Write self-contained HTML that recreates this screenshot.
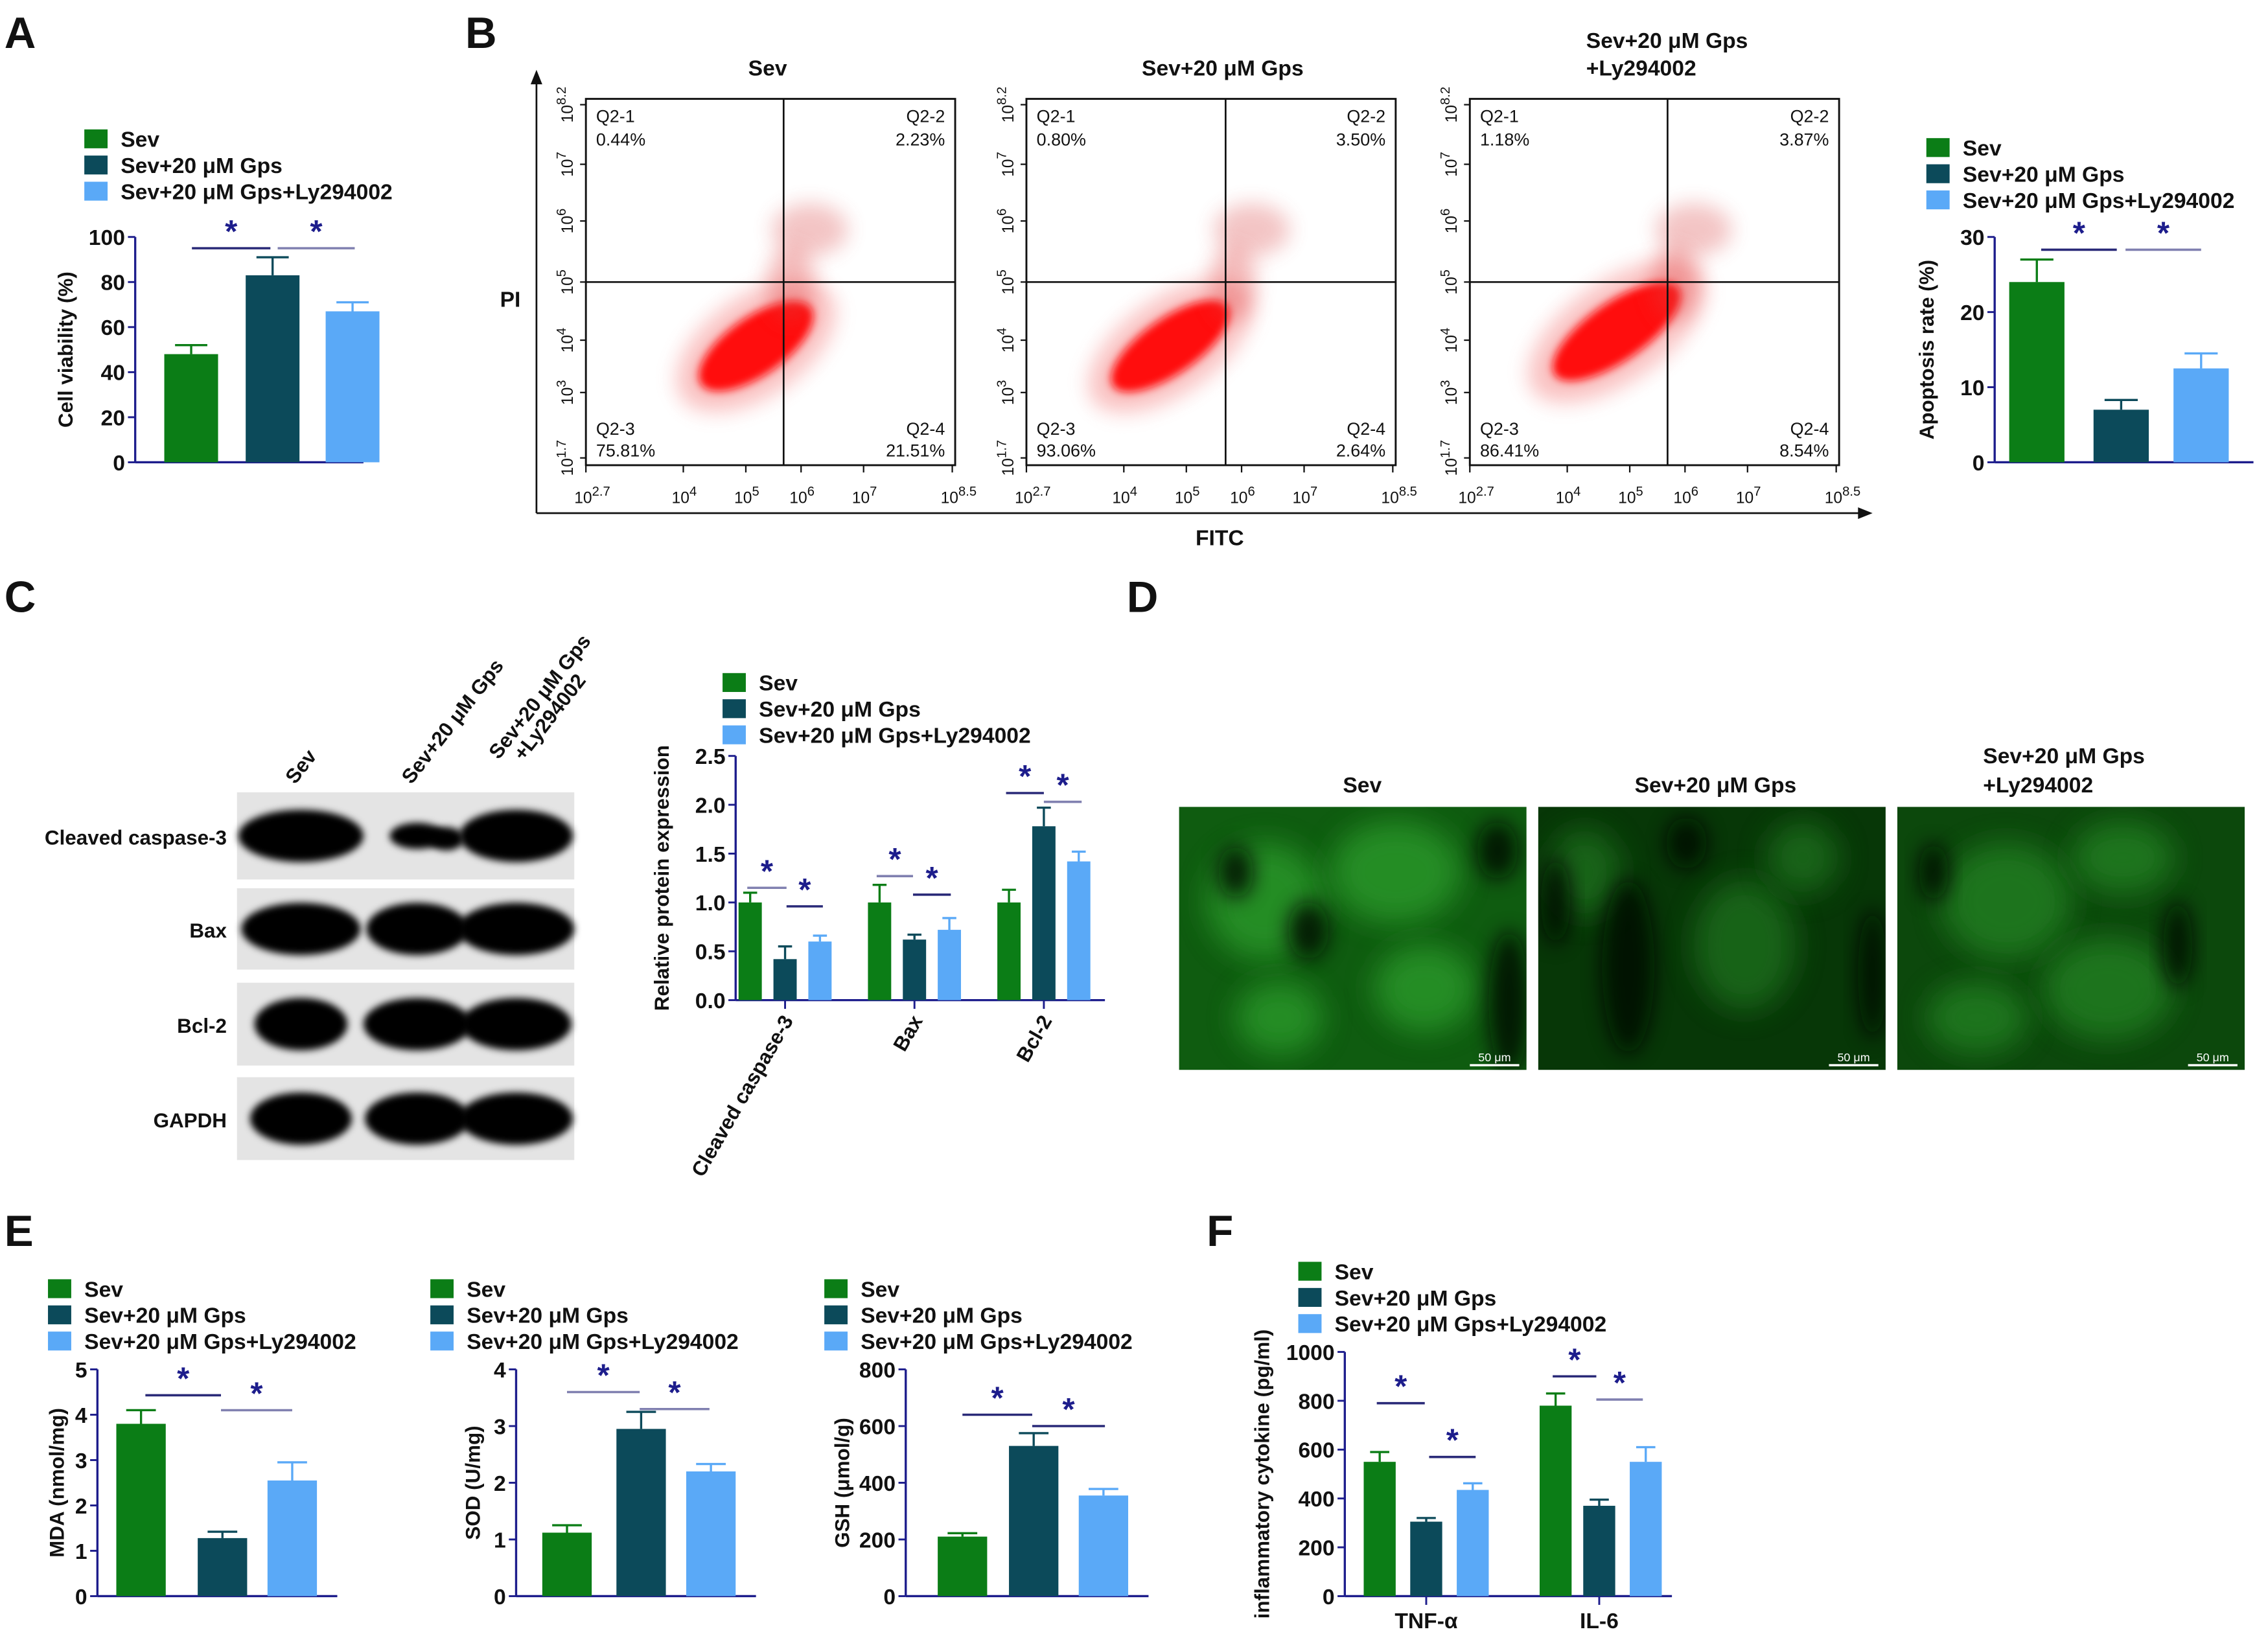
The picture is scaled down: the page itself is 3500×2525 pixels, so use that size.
<!DOCTYPE html>
<html><head><meta charset="utf-8"><style>
html,body{margin:0;padding:0;background:#fff}
svg{display:block}
text{font-family:"Liberation Sans",Arial,sans-serif}
</style></head><body>
<svg id="fig" xmlns="http://www.w3.org/2000/svg" width="3500" height="2525" viewBox="0 0 1560 1125.4">
<defs>
<filter id="blur2" x="-50%" y="-50%" width="200%" height="200%"><feGaussianBlur stdDeviation="3"/></filter>
<filter id="blur6" x="-50%" y="-50%" width="200%" height="200%"><feGaussianBlur stdDeviation="7"/></filter>
<filter id="blur10" x="-80%" y="-80%" width="260%" height="260%"><feGaussianBlur stdDeviation="10"/></filter>
<filter id="blurB" x="-20%" y="-40%" width="140%" height="180%"><feGaussianBlur stdDeviation="2.5"/></filter>
<clipPath id="clip0"><rect x="811" y="555" width="239" height="181"/></clipPath>
<clipPath id="clip1"><rect x="1058" y="555" width="239" height="181"/></clipPath>
<clipPath id="clip2"><rect x="1305" y="555" width="239" height="181"/></clipPath>
</defs>
<rect width="1560" height="1125.4" fill="#fff"/>
<g id="root"></g>
</svg>
<script>
// ===== data =====
const groups = ["Sev","Sev+20 μM Gps","Sev+20 μM Gps+Ly294002"];
const viabilityVals = [48, 83, 67];
const viabilityErr = [52, 91, 71];
const viabilityTicks = [0,20,40,60,80,100];
const apoptosisVals = [24, 7, 12.5];
const apoptosisErr = [27, 8.3, 14.5];
const apoptosisTicks = [0,10,20,30];
const proteinCats = ["Cleaved caspase-3","Bax","Bcl-2"];
const proteinSev = [1.0, 1.0, 1.0];
const proteinGps = [0.42, 0.62, 1.78];
const proteinLy = [0.6, 0.72, 1.42];
const proteinSevErr = [1.1, 1.18, 1.13];
const proteinGpsErr = [0.55, 0.67, 1.97];
const proteinLyErr = [0.66, 0.84, 1.52];
const proteinTicks = [0.0,0.5,1.0,1.5,2.0,2.5];
const mdaVals = [3.8, 1.28, 2.55];
const mdaErr = [4.1, 1.42, 2.95];
const mdaTicks = [0,1,2,3,4,5];
const sodVals = [1.12, 2.95, 2.2];
const sodErr = [1.25, 3.25, 2.33];
const sodTicks = [0,1,2,3,4];
const gshVals = [210, 530, 355];
const gshErr = [222, 575, 378];
const gshTicks = [0,200,400,600,800];
const cytoCats = ["TNF-α","IL-6"];
const cytoSev = [550, 780];
const cytoGps = [305, 370];
const cytoLy = [435, 550];
const cytoSevErr = [590, 830];
const cytoGpsErr = [320, 395];
const cytoLyErr = [462, 610];
const cytoTicks = [0,200,400,600,800,1000];
const flowTitles = ["Sev","Sev+20 μM Gps","Sev+20 μM Gps"];
const flowQ1 = ["0.44%","0.80%","1.18%"];
const flowQ2 = ["2.23%","3.50%","3.87%"];
const flowQ3 = ["75.81%","93.06%","86.41%"];
const flowQ4 = ["21.51%","2.64%","8.54%"];

const COLORS = ["#0b7d16","#0c4a5a","#5aa9f7"];
const AX = "#1d1d8c";
const NS = "http://www.w3.org/2000/svg";
const root = document.getElementById('root');
function el(tag, attrs, parent, txt){
  const e = document.createElementNS(NS, tag);
  for (const k in attrs) e.setAttribute(k, attrs[k]);
  if (txt !== undefined) e.textContent = txt;
  (parent||root).appendChild(e);
  return e;
}
function grp(name, parent){
  const g = el('g', {}, parent);
  
  
  return g;
}
function label(txt, x, y, size, parent, anchor, extra){
  const t = el('text', Object.assign({x:x, y:y, 'font-size':size, 'font-weight':'bold', 'text-anchor':anchor||'start', fill:'#111'}, extra||{}), parent, txt);
  return t;
}
function panelLetter(ch, x, y){
  const t = label(ch, x, y, 30, root);
  
  
}
function legend(x, y, step, parent){
  const g = grp('legend', parent);
  groups.forEach((n,i)=>{
    const e = grp('legend-entry', g);
    el('rect', {x:x, y:y+i*step-12, width:16, height:13, fill:COLORS[i]}, e);
    label(n, x+25, y+i*step, 15, e);
  });
}
function star(x, y, g){ el('text',{x:x,y:y,'font-size':22,'font-weight':'bold','text-anchor':'middle',fill:AX},g,'*'); }
function sigLine(x1, x2, y, g, col){ el('line',{x1:x1,x2:x2,y1:y,y2:y,stroke:col||'#3a3a88','stroke-width':1.6},g); }

function barChart(opt){
  const g = grp(opt.name);
  const yS = v => opt.y0 - (v - opt.ticks[0])/(opt.ticks[opt.ticks.length-1]-opt.ticks[0])*(opt.y0-opt.y1);
  el('line',{x1:opt.ax,x2:opt.ax,y1:opt.y1,y2:opt.y0,stroke:AX,'stroke-width':1.5},g);
  el('line',{x1:opt.ax,x2:opt.axEnd,y1:opt.y0,y2:opt.y0,stroke:AX,'stroke-width':1.5},g);
  const tg = grp('y-axis-ticks', g);
  opt.ticks.forEach(t=>{
    el('line',{x1:opt.ax-5,x2:opt.ax,y1:yS(t),y2:yS(t),stroke:AX,'stroke-width':1.3},tg);
    label(opt.fmt?opt.fmt(t):String(t), opt.ax-7, yS(t)+5.5, 15, tg, 'end');
  });
  const yt = label(opt.title, 0, 0, 14, g, 'middle', {transform:`translate(${opt.titleX},${(opt.y0+opt.y1)/2}) rotate(-90)`});
  
  
  opt.bars.forEach((b,i)=>{
    const bg = grp('bar-'+(b.name||i), g);
    const yt0 = yS(b.v), ye = yS(b.e), cx = b.x + b.w/2;
    el('line',{x1:cx,x2:cx,y1:ye,y2:yt0,stroke:b.c,'stroke-width':1.5},bg);
    el('line',{x1:cx-b.w*0.3,x2:cx+b.w*0.3,y1:ye,y2:ye,stroke:b.c,'stroke-width':1.5},bg);
    el('rect',{x:b.x,y:yt0,width:b.w,height:opt.y0-yt0,fill:b.c},bg);
  });
  const sg = grp('significance-markers', g);
  (opt.sig||[]).forEach(s=>{ sigLine(s[0], s[1], yS(s[2]), sg, s[3]); star((s[0]+s[1])/2, yS(s[2])-4, sg); });
  return {g, yS};
}
function threeBars(xs, w, vals, errs){
  return vals.map((v,i)=>({x:xs[i], w:w, v:v, e:errs[i], c:COLORS[i], name:['sev','gps','ly'][i]}));
}

// ===== Panel A =====
panelLetter('A', 3, 33);
legend(58, 101, 18);
barChart({name:'cell-viability-chart', ax:93, axEnd:250, y0:318, y1:163, ticks:viabilityTicks, title:'Cell viability (%)', titleX:50,
  bars:threeBars([113,169,224],37,viabilityVals,viabilityErr),
  sig:[[132,186,95,'#2a2a78'],[191,244,95,'#8080b0']]});

// ===== Panel B =====
panelLetter('B', 320, 33);
const flowG = grp('flow-cytometry');
const plotX = [403, 706, 1011], PW = 254, PT = 68, PB = 320;
const qx = [539, 843, 1147];
const cloudC = [[520,238,46,20],[805,238,48,19],[1112,228,52,20]];
plotX.forEach((px,k)=>{
  const pg = grp('flow-plot-'+(k+1), flowG);
  el('rect',{x:px,y:PT,width:PW,height:PB-PT,fill:'none',stroke:'#111','stroke-width':1.3},pg);
  const c = cloudC[k];
  el('ellipse',{cx:c[0],cy:c[1],rx:c[2]*1.35,ry:c[3]*1.7,fill:'#f05050',opacity:0.35,filter:'url(#blur6)',transform:`rotate(-35 ${c[0]} ${c[1]})`},pg);
  el('ellipse',{cx:c[0],cy:c[1],rx:c[2],ry:c[3],fill:'#ff1010',filter:'url(#blur2)',transform:`rotate(-35 ${c[0]} ${c[1]})`},pg);
  el('ellipse',{cx:qx[k]+18,cy:158,rx:26,ry:18,fill:'#d84040',opacity:0.3,filter:'url(#blur6)'},pg);
  el('ellipse',{cx:qx[k]+5,cy:195,rx:16,ry:26,fill:'#e04040',opacity:0.35,filter:'url(#blur6)'},pg);
  el('line',{x1:qx[k],x2:qx[k],y1:PT,y2:PB,stroke:'#111','stroke-width':1.2},pg);
  el('line',{x1:px,x2:px+PW,y1:194,y2:194,stroke:'#111','stroke-width':1.2},pg);
  const tf = {'font-weight':'normal'};
  label('Q2-1',px+7,84,12,pg,'start',tf); label(flowQ1[k],px+7,100,12,pg,'start',tf);
  label('Q2-2',px+PW-7,84,12,pg,'end',tf); label(flowQ2[k],px+PW-7,100,12,pg,'end',tf);
  label('Q2-3',px+7,299,12,pg,'start',tf); label(flowQ3[k],px+7,314,12,pg,'start',tf);
  label('Q2-4',px+PW-7,299,12,pg,'end',tf); label(flowQ4[k],px+PW-7,314,12,pg,'end',tf);
  const yl = [['8.2',72],['7',113],['6',152],['5',194],['4',234],['3',270],['1.7',315]];
  yl.forEach(t=>{
    const tt = el('text',{'font-size':11,fill:'#111',transform:`translate(${px-9},${t[1]}) rotate(-90)`,'text-anchor':'middle'},pg);
    el('tspan',{},tt,'10'); el('tspan',{dy:-5,'font-size':9},tt,t[0]);
    el('line',{x1:px-4,x2:px,y1:t[1],y2:t[1],stroke:'#111'},pg);
  });
  const xl = [['2.7',0],['4',67],['5',110],['6',148],['7',191],['8.5',252]];
  xl.forEach(t=>{
    const tt = el('text',{x:px+t[1]-8,y:346,'font-size':11,fill:'#111'},pg);
    el('tspan',{},tt,'10'); el('tspan',{dy:-5,'font-size':9},tt,t[0]);
    el('line',{x1:px+t[1],x2:px+t[1],y1:PB,y2:PB+5,stroke:'#111'},pg);
  });
});
label(flowTitles[0],528,52,15,flowG,'middle');
label(flowTitles[1],841,52,15,flowG,'middle');
label('Sev+20 μM Gps',1091,33,15,flowG,'start');
label('+Ly294002',1091,52,15,flowG,'start');
el('line',{x1:369,x2:369,y1:353,y2:52,stroke:'#111','stroke-width':1.2},flowG);
el('path',{d:'M365,58 L369,48 L373,58 Z',fill:'#111'},flowG);
el('line',{x1:369,x2:1284,y1:353,y2:353,stroke:'#111','stroke-width':1.2},flowG);
el('path',{d:'M1278,349 L1288,353 L1278,357 Z',fill:'#111'},flowG);
label('PI',351,211,15,flowG,'middle');
label('FITC',839,375,15,flowG,'middle');

legend(1325, 107, 18);
barChart({name:'apoptosis-rate-chart', ax:1372, axEnd:1550, y0:318, y1:163, ticks:apoptosisTicks, title:'Apoptosis rate (%)', titleX:1330,
  bars:threeBars([1382,1440,1495],38,apoptosisVals,apoptosisErr),
  sig:[[1404,1456,28.3,'#2a2a78'],[1462,1514,28.3,'#8080b0']]});

// ===== Panel C =====
panelLetter('C', 3, 421);
const wb = grp('western-blot');
const rows = ["Cleaved caspase-3","Bax","Bcl-2","GAPDH"];
const rowY = [545,611,676,741], rowH = [60,56,57,57];
const bandW = [[74,26,66],[70,58,68],[52,62,64],[58,60,66]];
const bandX = [207,287,355];
rows.forEach((r,i)=>{
  const rg = grp('blot-row-'+r.toLowerCase().replace(/[^a-z0-9]+/g,'-'), wb);
  el('rect',{x:163,y:rowY[i],width:232,height:rowH[i],fill:'#e4e4e4'},rg);
  bandX.forEach((bx,j)=>{
    let rw = bandW[i][j];
    el('ellipse',{cx:bx,cy:rowY[i]+rowH[i]/2,rx:rw/2+6,ry:i===0&&j===1?9:18,fill:'#050505',filter:'url(#blurB)'},rg);
    if(i===0&&j===1){ el('ellipse',{cx:bx+20,cy:rowY[i]+rowH[i]/2+2,rx:12,ry:8,fill:'#050505',filter:'url(#blurB)'},rg); }
  });
  label(r,156,rowY[i]+rowH[i]/2+6,14,rg,'end');
});
label('Sev',0,0,14,wb,'start',{transform:'translate(203,540) rotate(-52)'});
label('Sev+20 μM Gps',0,0,14,wb,'start',{transform:'translate(283,540) rotate(-52)'});
label('Sev+20 μM Gps',0,0,14,wb,'start',{transform:'translate(343,523) rotate(-52)'});
label('+Ly294002',0,0,14,wb,'start',{transform:'translate(360,524) rotate(-52)'});

legend(497, 475, 18);
(function(){
  const xs = [[508,532,556],[597,621,645],[686,710,734]];
  const bars = [];
  proteinCats.forEach((c,i)=>{
    bars.push({x:xs[i][0],w:16,v:proteinSev[i],e:proteinSevErr[i],c:COLORS[0],name:c+'-sev'});
    bars.push({x:xs[i][1],w:16,v:proteinGps[i],e:proteinGpsErr[i],c:COLORS[1],name:c+'-gps'});
    bars.push({x:xs[i][2],w:16,v:proteinLy[i],e:proteinLyErr[i],c:COLORS[2],name:c+'-ly'});
  });
  const ch = barChart({name:'protein-expression-chart', ax:506, axEnd:760, y0:688, y1:520, ticks:proteinTicks, title:'Relative protein expression', titleX:460,
    fmt:t=>t.toFixed(1), bars:bars,
    sig:[[514,541,1.15,'#8080b0'],[541,566,0.96,'#2a2a78'],[603,628,1.27,'#8080b0'],[628,654,1.08,'#2a2a78'],[692,718,2.12,'#2a2a78'],[718,744,2.03,'#8080b0']]});
  proteinCats.forEach((c,i)=>{
    const cx = xs[i][1]+8;
    el('line',{x1:cx,x2:cx,y1:688,y2:694,stroke:AX,'stroke-width':1.3},ch.g);
    label(c,0,0,14,ch.g,'end',{transform:`translate(${cx+6},${702}) rotate(-60)`});
  });
})();

// ===== Panel D =====
panelLetter('D', 775, 421);
const fl = grp('fluorescence-images');
const imgX = [811,1058,1305];
const dark = [
  [[1038,690,14,50],[900,640,14,20],[850,600,12,18],[1030,585,14,20]],
  [[1120,665,18,60],[1160,580,14,18],[1288,670,10,45],[1070,620,10,30]],
  [[1498,650,10,30],[1330,600,10,20]]
];
const bright = [
  [[870,620,40,40],[960,600,45,35],[980,680,35,30],[880,700,30,25]],
  [[1200,650,35,45],[1090,600,25,30],[1240,590,25,25]],
  [[1380,620,45,40],[1450,680,45,35],[1360,700,35,25],[1460,590,35,25]]
];
const base = ['#0f5c10','#073707','#0c480c'];
const brightCol = ['#2a9a2a','#1a6e1a','#208020'];
imgX.forEach((x,k)=>{
  const ig = grp('fluorescence-image-'+(k+1), fl);
  const cg = el('g',{'clip-path':`url(#clip${k})`},ig);
  el('rect',{x:x,y:555,width:239,height:181,fill:base[k]},cg);
  bright[k].forEach(d=>el('ellipse',{cx:d[0],cy:d[1],rx:d[2],ry:d[3],fill:brightCol[k],opacity:0.8,filter:'url(#blur10)'},cg));
  dark[k].forEach(d=>el('ellipse',{cx:d[0],cy:d[1],rx:d[2],ry:d[3],fill:'#020c02',opacity:0.85,filter:'url(#blur6)'},cg));
  el('rect',{x:x+200,y:732,width:34,height:1.5,fill:'#fff'},ig);
  el('text',{x:x+217,y:730,'font-size':8,'text-anchor':'middle',fill:'#fff'},ig,'50 μm');
});
label('Sev',937,545,15,fl,'middle');
label('Sev+20 μM Gps',1180,545,15,fl,'middle');
label('Sev+20 μM Gps',1364,525,15,fl,'start');
label('+Ly294002',1364,545,15,fl,'start');

// ===== Panel E =====
panelLetter('E', 3, 857);
legend(33, 892, 18);
barChart({name:'mda-chart', ax:67, axEnd:232, y0:1098, y1:942, ticks:mdaTicks, title:'MDA (nmol/mg)', titleX:44,
  bars:threeBars([80,136,184],34,mdaVals,mdaErr), sig:[[100,152,4.43,'#2a2a78'],[152,201,4.1,'#8080b0']]});
legend(296, 892, 18);
barChart({name:'sod-chart', ax:355, axEnd:520, y0:1098, y1:942, ticks:sodTicks, title:'SOD (U/mg)', titleX:330,
  bars:threeBars([373,424,472],34,sodVals,sodErr), sig:[[390,440,3.6,'#8080b0'],[440,488,3.3,'#8080b0']]});
legend(567, 892, 18);
barChart({name:'gsh-chart', ax:623, axEnd:790, y0:1098, y1:942, ticks:gshTicks, title:'GSH (μmol/g)', titleX:584,
  bars:threeBars([645,694,742],34,gshVals,gshErr), sig:[[662,710,640,'#2a2a78'],[710,760,600,'#2a2a78']]});

// ===== Panel F =====
panelLetter('F', 830, 857);
legend(893, 880, 18);
(function(){
  const xs = [[938,970,1002],[1059,1089,1121]];
  const bars = [];
  cytoCats.forEach((c,i)=>{
    bars.push({x:xs[i][0],w:22,v:cytoSev[i],e:cytoSevErr[i],c:COLORS[0],name:'sev'});
    bars.push({x:xs[i][1],w:22,v:cytoGps[i],e:cytoGpsErr[i],c:COLORS[1],name:'gps'});
    bars.push({x:xs[i][2],w:22,v:cytoLy[i],e:cytoLyErr[i],c:COLORS[2],name:'ly'});
  });
  const ch = barChart({name:'cytokine-chart', ax:925, axEnd:1150, y0:1098, y1:930, ticks:cytoTicks, title:'inflammatory cytokine (pg/ml)', titleX:873,
    bars:bars, sig:[[947,980,790,'#2a2a78'],[983,1015,570,'#2a2a78'],[1068,1098,900,'#2a2a78'],[1098,1130,805,'#8080b0']]});
  cytoCats.forEach((c,i)=>{
    const cx = xs[i][1]+11;
    el('line',{x1:cx,x2:cx,y1:1098,y2:1104,stroke:AX,'stroke-width':1.3},ch.g);
    label(c,cx,1120,15,ch.g,'middle');
  });
})();
</script>
</body></html>
